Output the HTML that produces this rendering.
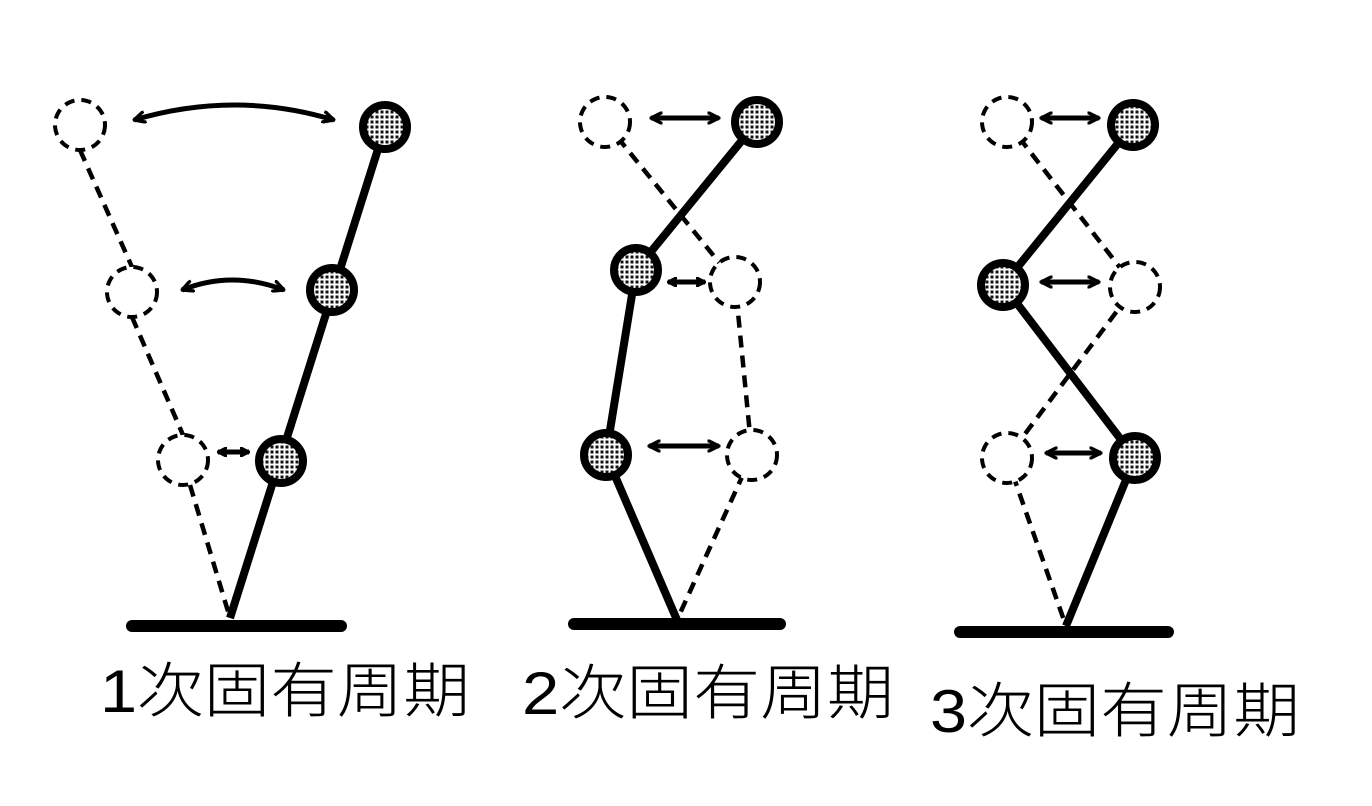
<!DOCTYPE html>
<html><head><meta charset="utf-8"><style>
html,body{margin:0;padding:0;background:#fff;width:1372px;height:806px;overflow:hidden}
svg{position:absolute;left:0;top:0}
.t{font-family:"Liberation Sans","Noto Sans CJK JP",sans-serif;font-size:60px;fill:#000;font-weight:300}
</style></head><body>
<svg width="1372" height="806" viewBox="0 0 1372 806">
<defs>
<pattern id="dots" width="5" height="5" patternUnits="userSpaceOnUse">
<rect width="5" height="5" fill="#fff"/><rect x="0.5" y="0.5" width="3" height="3" fill="#111"/>
</pattern>
<marker id="ah" viewBox="0 0 10 10" refX="9" refY="5" markerUnits="userSpaceOnUse" markerWidth="13" markerHeight="13" orient="auto-start-reverse">
<path d="M1,1 L9,5 L1,9" fill="none" stroke="#000" stroke-width="2.6" stroke-linecap="round"/>
</marker>
<marker id="ahs" viewBox="0 0 10 10" refX="9" refY="5" markerUnits="userSpaceOnUse" markerWidth="10" markerHeight="10" orient="auto-start-reverse">
<path d="M1,1 L9,5 L1,9" fill="none" stroke="#000" stroke-width="3" stroke-linecap="round"/>
</marker>
</defs>
<g fill="none" stroke="#000">
<!-- diagram 1 -->
<path d="M80,150 L132,267 M132,317 L183,435 M190,485 L230,618" stroke-width="4.5" stroke-dasharray="12,8"/>
<path d="M230,618 L385,127" stroke-width="8"/>
<line x1="132" y1="626" x2="341" y2="626" stroke-width="12" stroke-linecap="round"/>
<g stroke-width="4" stroke-dasharray="10,7" fill="#fff">
<circle cx="80" cy="125" r="25"/><circle cx="132" cy="292" r="25"/><circle cx="183" cy="460" r="25"/>
</g>
<g stroke-width="8" fill="url(#dots)">
<circle cx="385" cy="127" r="22"/><circle cx="332" cy="290" r="22"/><circle cx="281" cy="461" r="22"/>
</g>
<g stroke-width="5" marker-start="url(#ah)" marker-end="url(#ah)">
<path d="M134,120 Q235,90 334,120"/>
<path d="M182,290 Q232,270 284,290"/>
</g>
<path d="M218,452 L249,452" stroke-width="5" marker-start="url(#ahs)" marker-end="url(#ahs)"/>
<!-- diagram 2 -->
<path d="M605,122 L735,282 L752,455 L677,620" stroke-width="4.5" stroke-dasharray="12,8"/>
<path d="M757,122 L636,270 L606,455 L677,620" stroke-width="8"/>
<line x1="574" y1="624" x2="780" y2="624" stroke-width="12" stroke-linecap="round"/>
<g stroke-width="4" stroke-dasharray="10,7" fill="#fff">
<circle cx="605" cy="122" r="25"/><circle cx="735" cy="282" r="25"/><circle cx="752" cy="455" r="25"/>
</g>
<g stroke-width="8" fill="url(#dots)">
<circle cx="757" cy="122" r="22"/><circle cx="636" cy="270" r="22"/><circle cx="606" cy="455" r="22"/>
</g>
<g stroke-width="5" marker-start="url(#ah)" marker-end="url(#ah)">
<path d="M651,118 L719,118"/>
<path d="M649,446 L719,446"/>
</g>
<path d="M668,282 L705,282" stroke-width="5" marker-start="url(#ahs)" marker-end="url(#ahs)"/>
<!-- diagram 3 -->
<path d="M1007,122 L1135,287 L1007,458 L1066,626" stroke-width="4.5" stroke-dasharray="12,8"/>
<path d="M1133,125 L1003,285 L1135,458 L1066,626" stroke-width="8"/>
<line x1="960" y1="632" x2="1168" y2="632" stroke-width="12" stroke-linecap="round"/>
<g stroke-width="4" stroke-dasharray="10,7" fill="#fff">
<circle cx="1007" cy="122" r="25"/><circle cx="1135" cy="287" r="25"/><circle cx="1007" cy="458" r="25"/>
</g>
<g stroke-width="8" fill="url(#dots)">
<circle cx="1133" cy="125" r="22"/><circle cx="1003" cy="285" r="22"/><circle cx="1135" cy="458" r="22"/>
</g>
<g stroke-width="5" marker-start="url(#ah)" marker-end="url(#ah)">
<path d="M1041,118 L1099,118"/>
<path d="M1041,282 L1099,282"/>
<path d="M1046,453 L1101,453"/>
</g>
</g>
<text class="t" x="100" y="712" textLength="370" lengthAdjust="spacingAndGlyphs">1次固有周期</text>
<text class="t" x="522" y="714" textLength="372" lengthAdjust="spacingAndGlyphs">2次固有周期</text>
<text class="t" x="930" y="732" textLength="370" lengthAdjust="spacingAndGlyphs">3次固有周期</text>
</svg>
</body></html>
